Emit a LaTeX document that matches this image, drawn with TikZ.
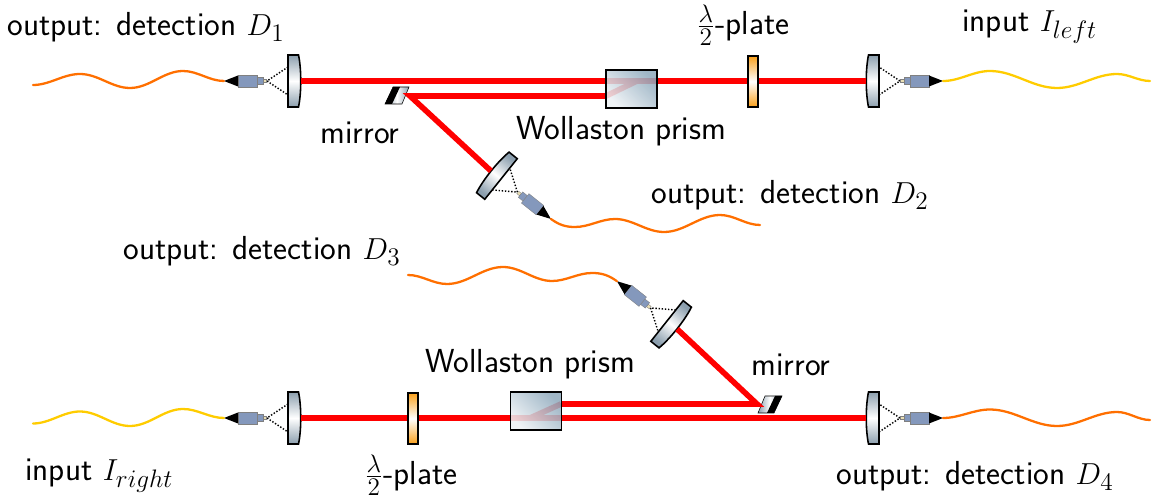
\documentclass[tikz,border=0pt]{standalone}
\usepackage{amsmath,amssymb}
\usepackage{tikz}
\usetikzlibrary{arrows.meta,positioning,calc}
\usepackage{xcolor}
\definecolor{optlens}{HTML}{8C9FAE}
\definecolor{optprism}{HTML}{8FAABD}
\definecolor{optplate}{HTML}{F9A01B}
\definecolor{optfibre}{HTML}{8498BC}
\definecolor{opttip}{HTML}{EADFB4}
\definecolor{outfibre}{HTML}{FF6F00}
\definecolor{infibre}{HTML}{FFCC00}

\tikzset{
    beam/.style={line width=3.2pt, red},
    fibre/.style={line width=1.3pt, line cap=round},
    wav/.style={out=0, in=180, looseness=0.9},
    lab/.style={font=\sffamily\fontsize{18.95}{22}\selectfont, inner sep=0pt},
    prism/.style={rectangle, draw=black, line width=0.8pt, inner sep=0pt,
                  minimum width=1.02cm, minimum height=0.76cm, fill opacity=0.86,
                  top color=optprism, bottom color=optprism!15, shading angle=#1},
    plate/.style={rectangle, draw=black, line width=0.8pt, inner sep=0pt,
                  minimum width=0.2cm, minimum height=1.02cm,
                  top color=optplate, bottom color=optplate, middle color=white},
    coupler/.pic={
        \begin{scope}[rotate=#1]
        \draw[densely dotted, line width=0.8pt] (0,-14) -- (-21,0) -- (0,14);
        \draw[line width=0.9pt, top color=optlens, bottom color=optlens, middle color=white,
              shading angle=#1]
            (0,-26) -- (10.5,-26) .. controls (13.5,-12) and (13.5,12) .. (10.5,26) -- (0,26) -- cycle;
        \fill[opttip, draw=gray, line width=0.2pt] (-25,-1.5) rectangle (-21.5,1.5);
        \fill[optfibre, draw=gray, line width=0.2pt] (-31,-3.5) rectangle (-25,3.5);
        \fill[optfibre, draw=gray, line width=0.2pt] (-50,-6) rectangle (-31,6);
        \fill[black] (-64,0) -- (-50,-5.5) -- (-50,5.5) -- cycle;
        \coordinate (-beam) at (13,0);
        \coordinate (-fibre) at (-64,0);
        \end{scope}
    },
    mirrorplate/.pic={
        \begin{scope}[rotate=#1]
        \draw[line width=0.3pt, left color=optlens, right color=optlens, middle color=white]
            (-12,8.5) -- (5,8.5) -- (12,-8.5) -- (-4,-8.5) -- cycle;
        \fill[black] (-12,8.5) -- (-5,8.5) -- (3,-8.5) -- (-4,-8.5) -- cycle;
        \coordinate (-spot) at (13,0.5);
        \end{scope}
    }
}

\begin{document}
\begin{tikzpicture}[x=0.02cm, y=-0.02cm]
\useasboundingbox (0,0) rectangle (1169,499);

\pic (cdone) at (288,81) {coupler=0};
\pic (ileft) at (879,81) {coupler=180};
\pic (cdtwo) at (501,179) {coupler=141.3};
\pic (mirtop) at (397,95.5) {mirrorplate=0};
\pic (cdthree) at (667,321) {coupler=-38.5};
\pic (cdfour) at (879,418) {coupler=180};
\pic (iright) at (288,418) {coupler=0};
\pic (mirbot) at (770,404.5) {mirrorplate=180};

\coordinate (endone) at (33,85);
\coordinate (endleft) at (1150,81);
\coordinate (endtwo) at (760,225);
\coordinate (endthree) at (408,275);
\coordinate (endfour) at (1150,420);
\coordinate (endright) at (33,423.5);

\draw[fibre, outfibre] (endone) to[wav] (80,74) to[wav] (130,88) to[wav] (183,71) to[wav] (cdone-fibre);
\draw[fibre, infibre] (ileft-fibre) to[wav] (990,71) to[wav] (1057,88) to[wav] (1117,74) to[wav] (endleft);
\draw[fibre, outfibre] (cdtwo-fibre) to[out=-35, in=180] (575,227) to[wav] (615,219) to[wav] (664,232) to[wav] (720,215) to[wav] (endtwo);
\draw[fibre, outfibre] (endthree) to[wav] (447,284) to[wav] (503,267) to[wav] (552,281) to[wav] (592,273) to[out=0, in=145] (cdthree-fibre);
\draw[fibre, outfibre] (cdfour-fibre) to[wav] (990,409.5) to[wav] (1057,426) to[wav] (1117,412) to[wav] (endfour);
\draw[fibre, infibre] (endright) to[wav] (80,411.5) to[wav] (130,426) to[wav] (183,409) to[wav] (iright-fibre);

\coordinate (prismtopin) at (606,96);
\coordinate (prismbotout) at (561,404);

\draw[beam] (cdone-beam) -- (ileft-beam);
\draw[beam] (prismtopin) -- (637,81);
\draw[beam] (prismtopin) -- (mirtop-spot) -- (cdtwo-beam);

\draw[beam] (iright-beam) -- (cdfour-beam);
\draw[beam] (530,418) -- (prismbotout);
\draw[beam] (prismbotout) -- (mirbot-spot) -- (cdthree-beam);

\node[prism=-45] (wolltop) at (631.5,89) {};
\node[plate] (platetop) at (753,81.5) {};
\node[prism=-45] (wollbot) at (536,411) {};
\node[plate] (platebot) at (413,418.5) {};

\node[lab, anchor=west] (labone) at (7,27) {output: detection $D_1$};
\node[lab, anchor=west] (labtwo) at (651,195) {output: detection $D_2$};
\node[lab, anchor=west] (labthree) at (123,251) {output: detection $D_3$};
\node[lab, anchor=west] (labfour) at (836,476) {output: detection $D_4$};
\node[lab, anchor=west] (lableft) at (962,27) {input $I_{left}$};
\node[lab, anchor=west] (labright) at (25,476) {input $I_{right}$};
\node[lab] (labmirtop) at (360,133) {mirror};
\node[lab] (labmirbot) at (791,365) {mirror};
\node[lab] (labwolltop) at (621,131) {Wollaston prism};
\node[lab] (labwollbot) at (530,364) {Wollaston prism};
\node[lab] (labplatetop) at (743,25) {$\frac{\lambda}{2}$-plate};
\node[lab] (labplatebot) at (411,475) {$\frac{\lambda}{2}$-plate};
\end{tikzpicture}
\end{document}
